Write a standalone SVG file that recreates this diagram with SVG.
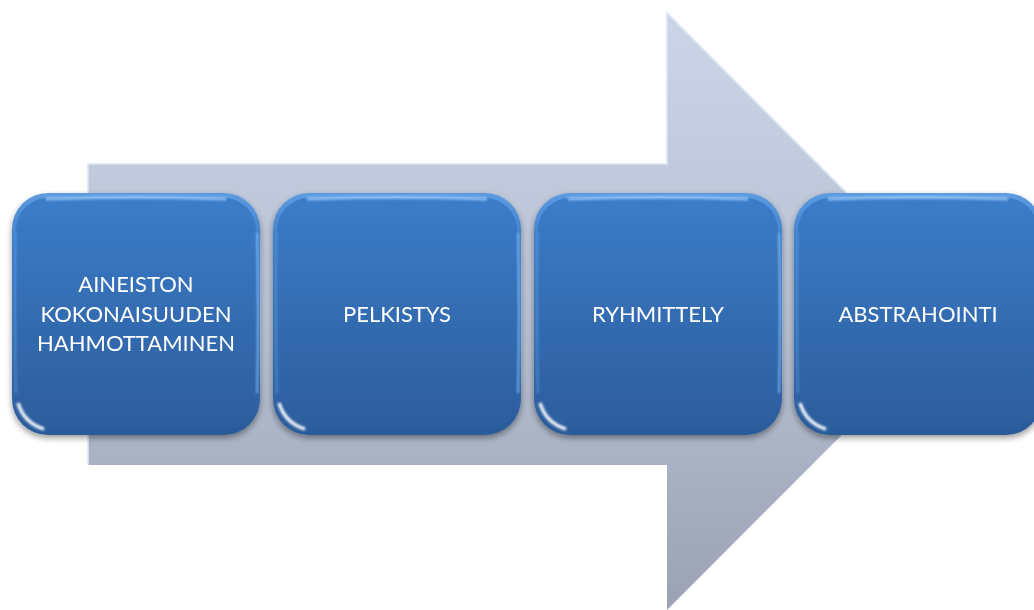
<svg xmlns="http://www.w3.org/2000/svg" width="1034" height="610" viewBox="0 0 1034 610">
  <defs>
    <linearGradient id="arrowFill" x1="0" y1="0" x2="0" y2="1">
      <stop offset="0" stop-color="#cbd5e7"/>
      <stop offset="0.5" stop-color="#b8c1d3"/>
      <stop offset="1" stop-color="#9aa2b4"/>
    </linearGradient>
    <linearGradient id="boxFill" x1="0" y1="0" x2="0" y2="1">
      <stop offset="0" stop-color="#3b7cc9"/>
      <stop offset="1" stop-color="#2c5d9c"/>
    </linearGradient>
    <linearGradient id="rimFill" x1="0" y1="0" x2="0" y2="1">
      <stop offset="0" stop-color="#5d9be0"/>
      <stop offset="0.2" stop-color="#3f80cb"/>
      <stop offset="0.85" stop-color="#2f63a5"/>
      <stop offset="1" stop-color="#2a5a98"/>
    </linearGradient>
    <filter id="shadow" x="-10%" y="-10%" width="120%" height="125%">
      <feGaussianBlur in="SourceAlpha" stdDeviation="3"/>
      <feOffset dy="3" result="b"/>
      <feComponentTransfer><feFuncA type="linear" slope="0.4"/></feComponentTransfer>
      <feMerge><feMergeNode/><feMergeNode in="SourceGraphic"/></feMerge>
    </filter>
    <filter id="soft" x="-20%" y="-20%" width="140%" height="140%">
      <feGaussianBlur stdDeviation="1.2"/>
    </filter>
    <symbol id="box" viewBox="0 0 248 242" overflow="visible">
      <rect x="0" y="0" width="248" height="242" rx="36" ry="36" fill="url(#rimFill)"/>
      <rect x="4" y="5" width="240" height="233" rx="32" ry="32" fill="url(#boxFill)"/>
      <g filter="url(#soft)">
        <path d="M 34 6 Q 124 3 214 6" stroke="#a8d4ff" stroke-width="3" fill="none" stroke-opacity="0.75"/>
        <path d="M 6 210 Q 12 230 32 236" stroke="#ffffff" stroke-width="3.5" fill="none" stroke-opacity="0.9"/>
        <path d="M 245 40 Q 247 121 245 200" stroke="#8cc6ff" stroke-width="2" fill="none" stroke-opacity="0.7"/>
        <path d="M 4 40 Q 2 121 4 200" stroke="#5a98dc" stroke-width="2" fill="none" stroke-opacity="0.6"/>
      </g>
    </symbol>
  </defs>
  <style>
    .lbl { font-family: Lato, "Open Sans", "Liberation Sans", sans-serif; font-size: 22px; fill: #ffffff; text-anchor: middle; }
  </style>
  <rect width="1034" height="610" fill="#ffffff"/>

  <g id="connectors">
    <path d="M 88 164 L 667 164 L 667 13 L 965 311.5 L 667 610 L 667 465 L 88 465 Z" fill="url(#arrowFill)"/>
    <path d="M 88 465 L 88 164 L 667 164 L 667 13 L 965 311.5" fill="none" stroke="#dde5f2" stroke-width="2" stroke-opacity="0.8"/>
  </g>

  <g id="node1" filter="url(#shadow)">
    <use href="#box" x="12" y="193" width="248" height="242"/>
    <text class="lbl" x="136" y="292">AINEISTON</text>
    <text class="lbl" x="136" y="321.5">KOKONAISUUDEN</text>
    <text class="lbl" x="136" y="351">HAHMOTTAMINEN</text>
  </g>
  <g id="node2" filter="url(#shadow)">
    <use href="#box" x="273" y="193" width="248" height="242"/>
    <text class="lbl" x="397" y="322">PELKISTYS</text>
  </g>
  <g id="node3" filter="url(#shadow)">
    <use href="#box" x="534" y="193" width="248" height="242"/>
    <text class="lbl" x="658" y="322">RYHMITTELY</text>
  </g>
  <g id="node4" filter="url(#shadow)">
    <use href="#box" x="794" y="193" width="248" height="242"/>
    <text class="lbl" x="918" y="322">ABSTRAHOINTI</text>
  </g>
</svg>
